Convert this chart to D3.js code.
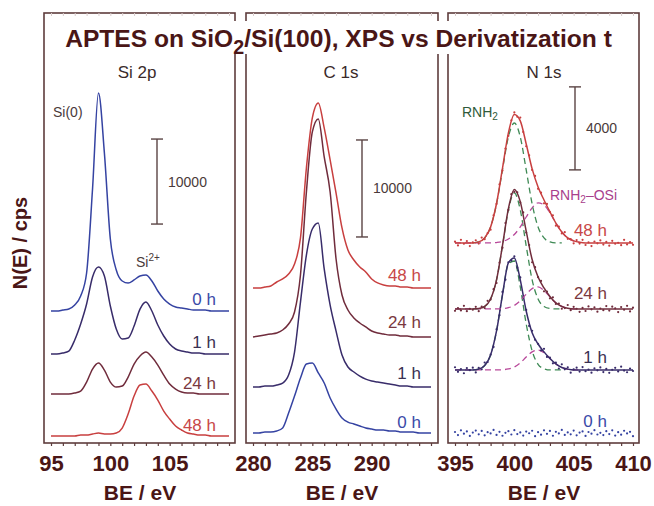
<!DOCTYPE html>
<html><head><meta charset="utf-8">
<script src="https://cdn.jsdelivr.net/npm/d3@7"></script>
<style>
body{margin:0;background:#fff}
svg{display:block}
text{font-family:"Liberation Sans",Arial,Helvetica,sans-serif}
</style></head>
<body><svg id="c" width="654" height="506"></svg>
<script>
// ---------- DATA ----------
const timeLabels = ["0 h", "1 h", "24 h", "48 h"];

// Si 2p (counts above own baseline), energy grid 95..110 step 0.5 eV
const siEnergy = d3.range(95, 110.25, 0.5);
const si0h  = [0,0,120,240,710,1760,4470,14350,25640,18580,8470,4820,3530,3290,3650,4120,4230,3530,2350,1410,820,470,350,240,120,120,120,0,0,0,0];
const si1h  = [0,0,120,350,1650,3530,5880,9060,10230,9170,5650,2940,1760,1880,3290,5290,6120,5060,3410,2120,1180,590,350,240,120,120,0,0,0,0,0];
const si24h = [0,0,0,0,120,350,1410,2940,3650,2820,1410,820,940,2000,3530,4470,4940,4350,3410,2230,1180,590,240,120,120,0,0,0,0,0,0];
const si48h = [0,0,0,0,0,120,120,240,350,240,240,350,940,2590,4700,6000,6120,5290,4230,2940,2000,1180,710,350,240,120,120,0,0,0,0];
const siOffsets = [15530, 10470, 5760, 820];

// C 1s, energy grid 280..295 step 0.5 eV
const cEnergy = d3.range(280, 295.25, 0.5);
const c0h  = [0,0,100,100,210,520,2060,3810,5670,7110,7220,6190,5160,3610,2470,1550,1130,930,720,520,410,310,310,210,210,100,100,100,0,0,0];
const c1h  = [0,0,100,100,210,410,1240,3610,8760,13610,16290,16910,12170,8450,5770,3300,2060,1550,1130,820,620,520,410,310,210,100,100,0,0,0,0];
const c24h = [0,100,210,310,410,720,1340,2580,6390,14950,21140,22480,18560,14950,8040,4330,2780,1960,1440,1030,620,410,310,210,210,100,100,0,0,0,0];
const c48h = [0,0,100,210,620,930,1440,2470,5160,12370,17530,19070,16500,13200,9790,6190,3920,2890,2170,1650,930,520,310,210,210,100,100,0,0,0,0];
const cOffsets = [1030, 5770, 10930, 15980];

// N 1s fits and components, energy grid 395..410 step 0.5 eV
const nEnergy = d3.range(395, 410.25, 0.5);
const nFit1h    = [0,0,0,0,40,210,720,1880,3620,5160,5400,4340,2840,1790,1250,870,550,290,120,40,0,0,0,0,0,0,0,0,0,0,0];
const nGreen1h  = [0,0,0,0,40,210,720,1880,3620,5110,5250,4000,2220,920,270,60,0,0,0,0,0,0,0,0,0,0,0,0,0,0,0];
const nMag1h    = [0,0,0,0,0,0,0,0,10,50,140,340,620,870,960,830,550,290,120,40,0,0,0,0,0,0,0,0,0,0,0];
const nFit24h   = [0,0,0,0,20,120,480,1400,3050,4830,5760,5170,3750,2380,1540,1010,600,290,120,30,0,0,0,0,0,0,0,0,0,0,0];
const nGreen24h = [0,0,0,0,20,120,480,1400,3040,4770,5590,4770,3040,1400,480,120,20,0,0,0,0,0,0,0,0,0,0,0,0,0,0];
const nMag24h   = [0,0,0,0,0,0,0,0,10,60,170,400,710,980,1060,890,580,290,120,30,0,0,0,0,0,0,0,0,0,0,0];
const nFit48h   = [0,0,0,0,50,240,770,1900,3590,5300,6190,5880,4770,3570,2700,2070,1500,960,530,240,100,30,0,0,0,0,0,0,0,0,0];
const nGreen48h = [0,0,0,0,50,240,770,1880,3520,5110,5780,5110,3520,1880,770,240,50,0,0,0,0,0,0,0,0,0,0,0,0,0,0];
const nMag48h   = [0,0,0,0,0,0,0,20,70,190,410,770,1250,1690,1930,1830,1450,960,530,240,100,30,0,0,0,0,0,0,0,0,0];

// N 1s measured points, energy grid 395..410 step 0.25 eV
const nDotEnergy = d3.range(395, 410.125, 0.25);
const nDots0h = [50,-100,130,-30,80,-140,20,120,-60,100,
  -110,40,-20,150,-90,60,-130,10,90,-70,
  140,-50,30,-120,70,-10,110,-150,40,-80,
  130,-40,100,-130,60,-20,150,-90,30,-60,
  120,-110,20,80,-140,50,-30,140,-70,10,
  -100,90,-50,130,-120,40,-80,110,-20,60,-150];
const nDots1h = [130,-90,40,-160,90,-10,110,-120,100,30,
  360,380,740,1110,1960,2640,3760,4350,5190,5270,
  5470,4930,4460,3500,2890,2120,1890,1450,1260,940,
  1020,630,590,320,350,70,270,30,130,-130,
  30,110,-80,140,-60,20,-130,80,-20,120,
  -100,50,-140,10,100,-70,160,-30,-110,70,-50];
const nDots24h = [-90,40,-70,150,-110,10,-40,100,-110,110,
  40,390,460,950,1250,2230,2950,4140,4770,5530,
  5640,5620,5130,4650,3680,3080,2250,2010,1530,1350,
  850,840,510,560,240,260,10,40,190,-60,
  100,10,-140,50,-100,120,-20,80,-130,20,
  -60,140,-80,110,30,-150,90,-40,150,-120,60];
const nDots48h = [60,-120,150,-40,90,-150,30,130,-30,260,
  180,470,640,1330,1880,2820,3490,4550,5160,5910,
  6290,6080,6040,5350,4660,4220,3520,3230,2610,2420,
  1910,1880,1490,1330,830,790,460,520,200,180,
  -20,140,-30,150,-100,30,-150,70,-20,120,
  -80,50,-130,100,-40,10,-110,150,-70,40,-90];
const nOffsets = [480, 3520, 6460, 9640];

// scale bars (counts)
const scaleBarSizes = [10000, 10000, 4000];
const scaleBarBases = [25760, 21240, 13160];
const siTicks = [95, 100, 105], cTicks = [280, 285, 290], nTicks = [395, 400, 405, 410];

// ---------- STYLE ----------
const seriesColors = ["#3543a2", "#382c6a", "#702c3c", "#c83f3f"];
const labelColors  = ["#3a4aa8", "#3a3052", "#7a3840", "#c84848"];
const frameColor = "#5e3c3c";
const darkText = "#4a1616";
const greenC = "#3f8a55", magC = "#b8489a";

const svg = d3.select("#c");
const TOP = 13, BOT = 443;

const panels = [
  {fx:44, fw:191, xd:[95,110], xr:[51,229], ymax:50590, ticks:siTicks, title:"Si 2p", tx:137, lx:216, bx:157,
   energy:siEnergy, series:[si0h,si1h,si24h,si48h], offsets:siOffsets, lblDy:[-6,-6,-5,-5]},
  {fx:246, fw:192, xd:[280,295], xr:[253,431], ymax:44330, ticks:cTicks, title:"C 1s", tx:341, lx:421, bx:362,
   energy:cEnergy, series:[c0h,c1h,c24h,c48h], offsets:cOffsets, lblDy:[-5,-8,-9,-7]},
  {fx:448, fw:191, xd:[395,410], xr:[455,633], ymax:20720, ticks:nTicks, title:"N 1s", tx:544, lx:607, bx:575,
   energy:nEnergy, series:null, offsets:nOffsets, lblDy:[-6,-7,-10,-7]}
];

panels.forEach((p, pi) => {
  const x = d3.scaleLinear().domain(p.xd).range(p.xr);
  const y = d3.scaleLinear().domain([0, p.ymax]).range([BOT, TOP]);
  const g = svg.append("g");

  // frame
  g.append("rect").attr("x", p.fx).attr("y", TOP).attr("width", p.fw).attr("height", BOT - TOP)
    .attr("fill", "none").attr("stroke", frameColor).attr("stroke-width", 1.6);

  // minor ticks bottom (outward) and faint top ticks
  const minor = d3.range(p.xd[0], p.xd[1] + 0.5, 1);
  g.append("g").attr("transform", `translate(0,${BOT})`)
    .call(d3.axisBottom(x).tickValues(minor).tickSize(3).tickFormat(""))
    .call(a => { a.select(".domain").remove(); a.selectAll("line").attr("stroke", frameColor).attr("stroke-width", 1.2); });
  g.append("g").attr("transform", `translate(0,${TOP})`)
    .call(d3.axisBottom(x).tickValues(minor).tickSize(3).tickFormat(""))
    .call(a => { a.select(".domain").remove(); a.selectAll("line").attr("stroke", "#d9cccc").attr("stroke-width", 1); });

  // major tick labels
  g.append("g").attr("transform", `translate(0,${BOT})`)
    .call(d3.axisBottom(x).tickValues(p.ticks).tickSize(0).tickPadding(12).tickFormat(d3.format("d")))
    .call(a => { a.select(".domain").remove();
      a.selectAll("text").attr("font-size", 22).attr("font-weight", "bold").attr("fill", darkText)
        .attr("font-family", '"Liberation Sans",Arial,sans-serif'); });

  // axis title
  g.append("text").attr("x", (p.xr[0] + p.xr[1]) / 2).attr("y", 500).attr("text-anchor", "middle")
    .attr("font-size", 21).attr("font-weight", "bold").attr("fill", darkText).text("BE / eV");

  // panel title
  g.append("text").attr("x", p.tx).attr("y", 78).attr("text-anchor", "middle")
    .attr("font-size", 17).attr("fill", "#3a2a2a").text(p.title);

  // scale bar
  const y0 = y(scaleBarBases[pi]), y1 = y(scaleBarBases[pi] + scaleBarSizes[pi]);
  const sb = g.append("g").attr("stroke", "#5a4444").attr("stroke-width", 1.4);
  sb.append("line").attr("x1", p.bx).attr("x2", p.bx).attr("y1", y0).attr("y2", y1);
  sb.append("line").attr("x1", p.bx - 6).attr("x2", p.bx + 6).attr("y1", y0).attr("y2", y0);
  sb.append("line").attr("x1", p.bx - 6).attr("x2", p.bx + 6).attr("y1", y1).attr("y2", y1);
  g.append("text").attr("x", p.bx + 11).attr("y", (y0 + y1) / 2 + 5).attr("font-size", 14)
    .attr("fill", "#4a3a3a").text(d3.format("d")(scaleBarSizes[pi]));

  if (p.series) {
    p.series.forEach((vals, si) => {
      const off = p.offsets[si];
      const line = d3.line().x((d, i) => x(p.energy[i])).y(d => y(d + off)).curve(d3.curveMonotoneX);
      g.append("path").attr("d", line(vals)).attr("fill", "none")
        .attr("stroke", seriesColors[si]).attr("stroke-width", 1.5);
    });
  } else {
    const dots = [nDots0h, nDots1h, nDots24h, nDots48h];
    const fits = [null, nFit1h, nFit24h, nFit48h];
    const greens = [null, nGreen1h, nGreen24h, nGreen48h];
    const mags = [null, nMag1h, nMag24h, nMag48h];
    dots.forEach((vals, si) => {
      const off = p.offsets[si];
      if (greens[si]) {
        const gl = d3.line().defined((d, i) => nEnergy[i] >= 396.5 && nEnergy[i] <= 404)
          .x((d, i) => x(nEnergy[i])).y(d => y(d + off)).curve(d3.curveMonotoneX);
        const ml = d3.line().defined((d, i) => nEnergy[i] <= 405.5)
          .x((d, i) => x(nEnergy[i])).y(d => y(d + off)).curve(d3.curveMonotoneX);
        g.append("path").attr("d", ml(mags[si])).attr("fill", "none").attr("stroke", magC)
          .attr("stroke-width", 1.3).attr("stroke-dasharray", "6,4");
        g.append("path").attr("d", gl(greens[si])).attr("fill", "none").attr("stroke", greenC)
          .attr("stroke-width", 1.3).attr("stroke-dasharray", "6,4");
      }
      g.append("g").selectAll("circle").data(vals).join("circle")
        .attr("cx", (d, i) => x(nDotEnergy[i])).attr("cy", d => y(d + off)).attr("r", 1.1)
        .attr("fill", seriesColors[si]);
      if (fits[si]) {
        const fl = d3.line().x((d, i) => x(nEnergy[i])).y(d => y(d + off)).curve(d3.curveMonotoneX);
        g.append("path").attr("d", fl(fits[si])).attr("fill", "none")
          .attr("stroke", seriesColors[si]).attr("stroke-width", 1.5);
      }
    });
    // component labels
    const t1 = g.append("text").attr("x", 462).attr("y", 117).attr("font-size", 14).attr("fill", "#2f5a3a");
    t1.append("tspan").text("RNH");
    t1.append("tspan").attr("font-size", 10).attr("dy", 3).text("2");
    const t2 = g.append("text").attr("x", 550).attr("y", 200).attr("font-size", 14).attr("fill", "#a8408c");
    t2.append("tspan").text("RNH");
    t2.append("tspan").attr("font-size", 10).attr("dy", 3).text("2");
    t2.append("tspan").attr("dy", -3).text("\u2013OSi");
  }

  // time labels
  timeLabels.forEach((t, si) => {
    g.append("text").attr("x", p.lx).attr("y", y(p.offsets[si]) + p.lblDy[si])
      .attr("text-anchor", "end").attr("font-size", 17).attr("fill", labelColors[si]).text(t);
  });

  if (pi === 0) {
    g.append("text").attr("x", 53).attr("y", 117).attr("font-size", 14).attr("fill", "#4a3a3a").text("Si(0)");
    const s2 = g.append("text").attr("x", 136).attr("y", 267).attr("font-size", 14).attr("fill", "#4a3a3a");
    s2.append("tspan").text("Si");
    s2.append("tspan").attr("font-size", 10).attr("dy", -6).text("2+");
  }
});

// title with white band
svg.append("rect").attr("x", 56).attr("y", 21).attr("width", 572).attr("height", 33).attr("fill", "#fff");
const title = svg.append("text").attr("x", 338.5).attr("y", 47).attr("text-anchor", "middle")
  .attr("font-weight", "bold").attr("fill", darkText).attr("font-size", 24);
title.append("tspan").text("APTES on SiO");
title.append("tspan").attr("font-size", "0.8em").attr("dy", 7).text("2");
title.append("tspan").attr("dy", -7).text("/Si(100), XPS vs Derivatization t");
const len = title.node().getComputedTextLength();
title.attr("font-size", 24 * 547 / len);

// y axis title
svg.append("text").attr("transform", "translate(27,243) rotate(-90)").attr("text-anchor", "middle")
  .attr("font-size", 20).attr("font-weight", "bold").attr("fill", darkText).text("N(E) / cps");
</script>
</body></html>
